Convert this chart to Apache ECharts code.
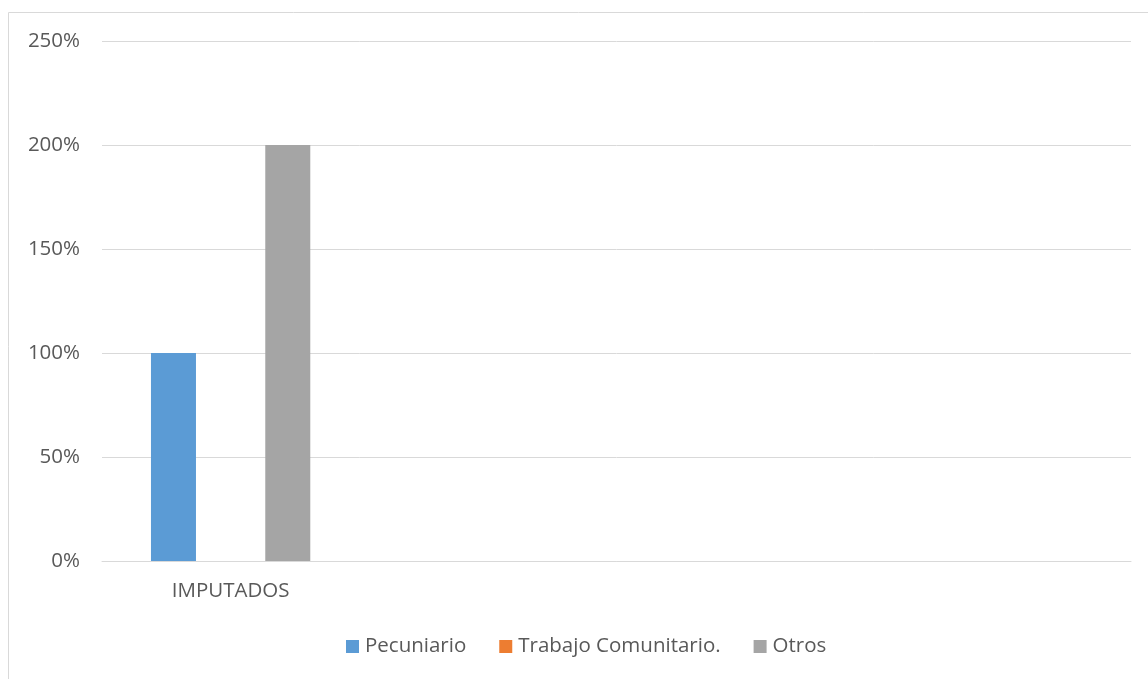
<!DOCTYPE html>
<html>
<head>
<meta charset="utf-8">
<script src="https://cdn.jsdelivr.net/npm/echarts@6/dist/echarts.min.js"></script>
<style>
  html, body { margin: 0; padding: 0; background: #fff; }
  #main { width: 1148px; height: 679px; }
</style>
</head>
<body>
<div id="main"></div>
<script>
// categories (only the first has a name, the rest are empty slots in the sheet)
var categories = ['IMPUTADOS', '', '', ''];
var seriesNames = ['Pecuniario', 'Trabajo Comunitario.', 'Otros'];
var pecuniario = [100, null, null, null];
var trabajo = [0, null, null, null];
var otros = [200, null, null, null];
var colors = ['#5b9bd5', '#ed7d31', '#a5a5a5'];

var chart = echarts.init(document.getElementById('main'));
var font = '"Open Sans", "Noto Sans", sans-serif';

var option = {
    color: colors,
    animation: false,
    graphic: [{
        type: 'rect',
        shape: { x: 8.5, y: 12.5, width: 1200, height: 700 },
        style: { fill: 'none', stroke: '#d9d9d9', lineWidth: 1 },
        silent: true
    }],
    grid: {
        left: 102,
        right: 17,
        top: 41,
        bottom: 118
    },
    legend: {
        left: 346,
        top: 636,
        padding: 0,
        itemWidth: 13,
        itemHeight: 13,
        itemGap: 33,
        icon: 'rect',
        textStyle: { color: '#595959', fontSize: 20.5, fontFamily: font, padding: [0, 0, 0, 1] },
        data: seriesNames
    },
    xAxis: {
        type: 'category',
        data: categories,
        axisLine: { lineStyle: { color: '#d9d9d9', width: 1 } },
        axisTick: { show: false },
        axisLabel: { color: '#595959', fontSize: 20.5, fontFamily: font, margin: 20 }
    },
    yAxis: {
        type: 'value',
        min: 0,
        max: 250,
        interval: 50,
        axisLine: { show: false },
        axisTick: { show: false },
        splitLine: { lineStyle: { color: '#d9d9d9', width: 1 } },
        axisLabel: {
            color: '#595959', fontSize: 20.5, fontFamily: font, margin: 22,
            formatter: function (v) { return v + '%'; }
        }
    },
    series: [
        { name: seriesNames[0], type: 'bar', data: pecuniario, barWidth: 45, barGap: '27%' },
        { name: seriesNames[1], type: 'bar', data: trabajo, barWidth: 45, barGap: '27%' },
        { name: seriesNames[2], type: 'bar', data: otros, barWidth: 45, barGap: '27%' }
    ]
};

chart.setOption(option);
</script>
</body>
</html>
